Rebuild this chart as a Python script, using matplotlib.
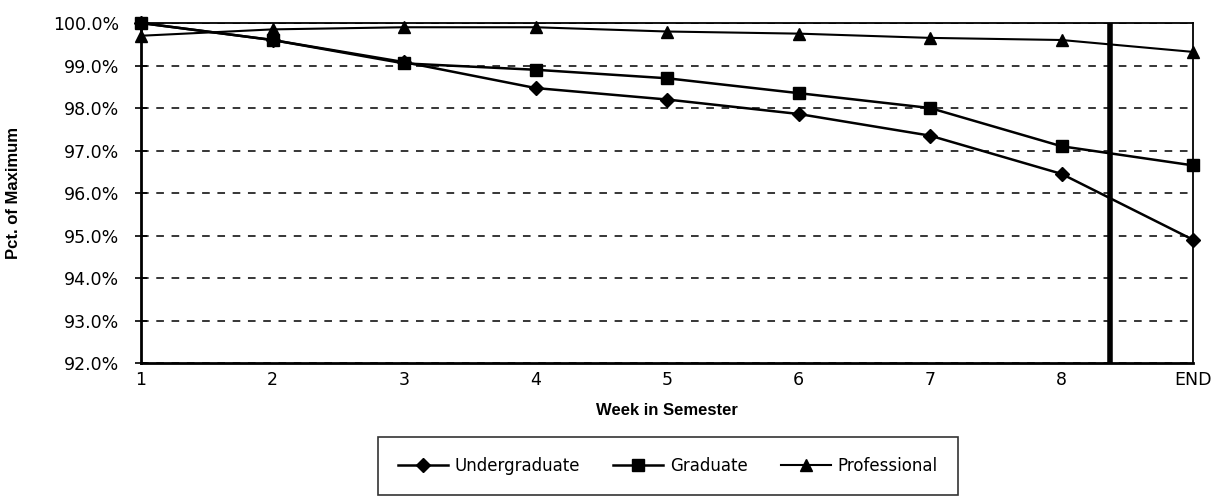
import matplotlib
matplotlib.use("Agg")
import matplotlib.pyplot as plt
from matplotlib.ticker import FuncFormatter

plt.rcParams['font.family'] = ['DejaVu Sans']

weeks = ["1", "2", "3", "4", "5", "6", "7", "8", "END"]
undergraduate = [100.0, 99.6, 99.08, 98.47, 98.2, 97.86, 97.35, 96.45, 94.9]
graduate = [100.0, 99.6, 99.05, 98.9, 98.7, 98.35, 98.0, 97.1, 96.65]
professional = [99.7, 99.85, 99.9, 99.9, 99.8, 99.75, 99.65, 99.6, 99.32]
cutoff_position = 7.37  # index position of vertical marker line

fig = plt.figure(figsize=(12.25, 4.99), dpi=100)
ax = fig.add_axes([0.1151, 0.2725, 0.8588, 0.6814])
x = list(range(len(weeks)))

ax.plot(x, undergraduate, color='black', lw=1.8, marker='D', ms=7, label='Undergraduate', clip_on=False, zorder=4)
ax.plot(x, graduate, color='black', lw=1.8, marker='s', ms=8, label='Graduate', clip_on=False, zorder=4)
ax.plot(x, professional, color='black', lw=1.5, marker='^', ms=8, label='Professional', clip_on=False, zorder=4)
ax.axvline(cutoff_position, color='black', lw=4, zorder=3)

ax.set_xlim(0, len(weeks) - 1)
ax.set_ylim(92, 100)
ax.set_xticks(x)
ax.set_xticklabels(weeks)
ax.set_yticks([92 + i for i in range(9)])
ax.yaxis.set_major_formatter(FuncFormatter(lambda v, p: f"{v:.1f}%"))
ax.grid(axis='y', linestyle=(0, (5, 5)), color='black', lw=1.1)
ax.tick_params(axis='y', length=8, width=1.2, direction='inout', labelsize=12.5, pad=12)
ax.tick_params(axis='x', length=0, labelsize=12.5, pad=6)
for s in ax.spines.values():
    s.set_linewidth(1.3)
ax.spines['left'].set_linewidth(2)
ax.spines['bottom'].set_linewidth(2)

ax.set_xlabel('Week in Semester', fontsize=12, fontweight='bold', labelpad=10,
              family=['Liberation Sans'])
ax.set_ylabel('Pct. of Maximum', fontsize=12, fontweight='bold', family=['Liberation Sans'])
ax.yaxis.set_label_coords(-0.114, 0.5)

leg = fig.legend(loc='upper center', bbox_to_anchor=(0.545, 0.141), ncol=3, fontsize=12,
                 frameon=True, fancybox=False, edgecolor='black', handlelength=3.0,
                 columnspacing=2.0, handletextpad=0.4, borderpad=1.2)
leg.get_frame().set_linewidth(1.2)

fig.savefig('out.png', dpi=100)
